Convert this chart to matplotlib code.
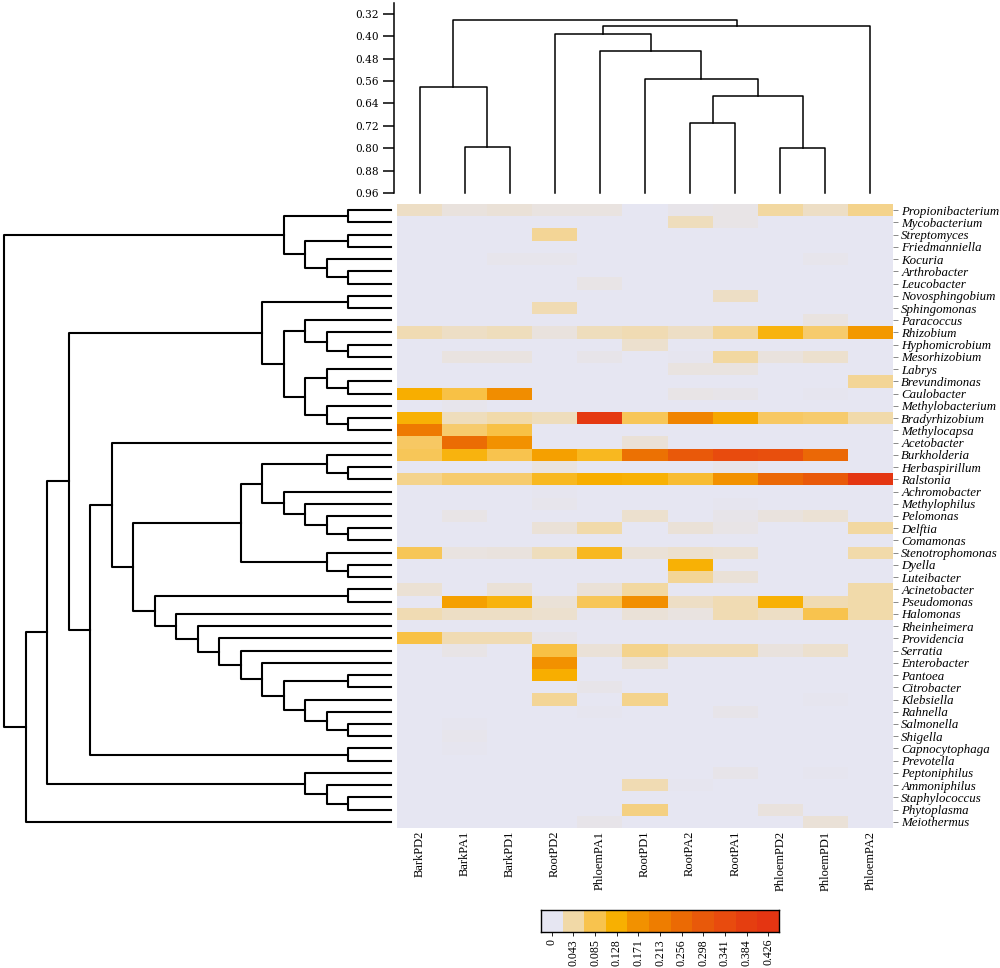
import matplotlib
matplotlib.use('Agg')
import matplotlib.pyplot as plt
from matplotlib.colors import LinearSegmentedColormap, Normalize
import numpy as np

# samples (columns), left to right
samples = ['BarkPD2', 'BarkPA1', 'BarkPD1', 'RootPD2', 'PhloemPA1', 'RootPD1',
           'RootPA2', 'RootPA1', 'PhloemPD2', 'PhloemPD1', 'PhloemPA2']

# relative abundance per genus, one value per sample (same order as samples)
actinobacteria = {
    'Propionibacterium': [0.025, 0.012, 0.015, 0.010, 0.010, 0, 0.005, 0.008, 0.045, 0.025, 0.055],
    'Mycobacterium':     [0, 0, 0, 0, 0, 0, 0.030, 0.008, 0, 0, 0],
    'Streptomyces':      [0, 0, 0, 0.050, 0, 0, 0, 0, 0, 0, 0],
    'Friedmanniella':    [0, 0, 0, 0, 0, 0, 0, 0, 0, 0, 0],
    'Kocuria':           [0, 0, 0.004, 0.004, 0, 0, 0, 0, 0, 0.004, 0],
    'Arthrobacter':      [0, 0, 0, 0, 0, 0, 0, 0, 0, 0, 0],
    'Leucobacter':       [0, 0, 0, 0, 0.008, 0, 0, 0, 0, 0, 0],
}
alphaproteobacteria = {
    'Novosphingobium':  [0, 0, 0, 0, 0, 0, 0, 0.025, 0, 0, 0],
    'Sphingomonas':     [0, 0, 0, 0.035, 0, 0, 0, 0, 0, 0, 0],
    'Paracoccus':       [0, 0, 0, 0, 0, 0, 0, 0, 0, 0.010, 0],
    'Rhizobium':        [0.035, 0.025, 0.030, 0.012, 0.030, 0.035, 0.025, 0.050, 0.120, 0.070, 0.160],
    'Hyphomicrobium':   [0, 0, 0, 0, 0, 0.020, 0, 0, 0, 0, 0],
    'Mesorhizobium':    [0, 0.010, 0.010, 0, 0.006, 0, 0.003, 0.045, 0.012, 0.020, 0],
    'Labrys':           [0, 0, 0, 0, 0, 0, 0.010, 0.010, 0, 0, 0],
    'Brevundimonas':    [0, 0, 0, 0, 0, 0, 0, 0, 0, 0, 0.050],
    'Caulobacter':      [0.130, 0.090, 0.180, 0, 0, 0, 0.008, 0.005, 0, 0.003, 0],
    'Methylobacterium': [0, 0.004, 0, 0, 0, 0, 0, 0, 0, 0, 0],
    'Bradyrhizobium':   [0.125, 0.030, 0.040, 0.030, 0.410, 0.080, 0.200, 0.140, 0.075, 0.070, 0.040],
    'Methylocapsa':     [0.220, 0.070, 0.090, 0, 0, 0, 0, 0, 0, 0, 0],
    'Acetobacter':      [0.075, 0.250, 0.170, 0, 0, 0.015, 0, 0, 0, 0, 0],
}
betaproteobacteria = {
    'Burkholderia':     [0.080, 0.120, 0.085, 0.150, 0.110, 0.240, 0.300, 0.340, 0.330, 0.260, 0],
    'Herbaspirillum':   [0, 0, 0, 0.010, 0, 0, 0, 0.005, 0, 0, 0],
    'Ralstonia':        [0.055, 0.070, 0.070, 0.110, 0.130, 0.125, 0.100, 0.170, 0.260, 0.300, 0.420],
    'Achromobacter':    [0, 0, 0, 0.003, 0, 0, 0, 0, 0, 0, 0],
    'Methylophilus':    [0, 0, 0, 0.004, 0, 0, 0, 0.003, 0, 0, 0],
    'Pelomonas':        [0, 0.008, 0, 0, 0, 0.020, 0, 0.006, 0.012, 0.018, 0],
    'Delftia':          [0, 0, 0, 0.015, 0.040, 0, 0.015, 0.008, 0, 0, 0.045],
    'Comamonas':        [0, 0, 0, 0, 0, 0, 0, 0, 0, 0, 0],
}
gammaproteobacteria = {
    'Stenotrophomonas': [0.080, 0.010, 0.012, 0.030, 0.110, 0.015, 0.020, 0.018, 0, 0, 0.040],
    'Dyella':           [0, 0, 0, 0, 0, 0, 0.125, 0, 0, 0, 0],
    'Luteibacter':      [0, 0, 0, 0, 0, 0, 0.050, 0.015, 0, 0, 0],
    'Acinetobacter':    [0.018, 0, 0.015, 0, 0.015, 0.045, 0, 0, 0, 0, 0.040],
    'Pseudomonas':      [0, 0.150, 0.120, 0.015, 0.080, 0.175, 0.025, 0.035, 0.125, 0.035, 0.040],
    'Halomonas':        [0.035, 0.025, 0.025, 0.020, 0.003, 0.015, 0.010, 0.035, 0.025, 0.085, 0.040],
    'Rheinheimera':     [0, 0, 0, 0, 0, 0, 0, 0, 0, 0, 0],
    'Providencia':      [0.090, 0.035, 0.035, 0.006, 0, 0, 0, 0, 0, 0, 0],
    'Serratia':         [0, 0.008, 0, 0.090, 0.015, 0.055, 0.035, 0.035, 0.012, 0.020, 0],
    'Enterobacter':     [0, 0, 0, 0.170, 0, 0.015, 0, 0, 0, 0, 0],
    'Pantoea':          [0, 0, 0, 0.130, 0, 0, 0, 0, 0, 0, 0],
    'Citrobacter':      [0, 0, 0, 0, 0.006, 0, 0, 0, 0, 0, 0],
    'Klebsiella':       [0, 0, 0, 0.050, 0, 0.055, 0, 0, 0, 0.003, 0],
    'Rahnella':         [0, 0, 0, 0, 0.003, 0, 0, 0.006, 0, 0, 0],
    'Salmonella':       [0, 0.003, 0, 0, 0, 0, 0, 0, 0, 0, 0],
    'Shigella':         [0, 0.004, 0, 0, 0, 0, 0, 0, 0, 0, 0],
}
others = {
    'Capnocytophaga':   [0, 0.002, 0, 0, 0, 0, 0, 0, 0, 0, 0],
    'Prevotella':       [0, 0, 0, 0, 0, 0, 0, 0, 0, 0, 0],
    'Peptoniphilus':    [0, 0, 0, 0, 0, 0, 0, 0.006, 0, 0.003, 0],
    'Ammoniphilus':     [0, 0, 0, 0, 0, 0.035, 0.003, 0, 0, 0, 0],
    'Staphylococcus':   [0, 0, 0, 0, 0, 0, 0, 0, 0, 0, 0],
    'Phytoplasma':      [0, 0, 0, 0, 0, 0.060, 0, 0, 0.012, 0, 0],
    'Meiothermus':      [0, 0, 0, 0, 0.006, 0, 0, 0, 0, 0.015, 0],
}

# colour key
key_ticks = [0, 0.043, 0.085, 0.128, 0.171, 0.213, 0.256, 0.298, 0.341, 0.384, 0.426]
key_colors = ['#E6E6F2', '#F2D9A6', '#F8C34E', '#F8B000', '#F29100', '#EF7E00',
              '#EB6A05', '#E95A0A', '#E84B0E', '#E63F10', '#E43512']

# sample clustering: (similarity, left, right)
sample_tree = (0.343,
               (0.583, 'BarkPD2', (0.795, 'BarkPA1', 'BarkPD1')),
               (0.365,
                (0.391, 'RootPD2',
                 (0.453, 'PhloemPA1',
                  (0.552, 'RootPD1',
                   (0.615, (0.709, 'RootPA2', 'RootPA1'),
                    (0.800, 'PhloemPD2', 'PhloemPD1'))))),
                'PhloemPA2'))
sample_ticks = [0.32, 0.40, 0.48, 0.56, 0.64, 0.72, 0.80, 0.88, 0.96]

# genus clustering: (level, left, right)
alpha_tree = (6, (2, 'Novosphingobium', 'Sphingomonas'),
              (5, (4, 'Paracoccus', (3, 'Rhizobium', (2, 'Hyphomicrobium', 'Mesorhizobium'))),
               (4, (3, 'Labrys', (2, 'Brevundimonas', 'Caulobacter')),
                (3, 'Methylobacterium', (2, 'Bradyrhizobium', 'Methylocapsa')))))
beta_tree = (7, (6, (3, 'Burkholderia', (2, 'Herbaspirillum', 'Ralstonia')),
                 (5, 'Achromobacter', (4, 'Methylophilus', (3, 'Pelomonas', (2, 'Delftia', 'Comamonas'))))),
             (3, 'Stenotrophomonas', (2, 'Dyella', 'Luteibacter')))
gamma_tree = (11, (2, 'Acinetobacter', 'Pseudomonas'),
              (10, 'Halomonas', (9, 'Rheinheimera', (8, 'Providencia', (7, 'Serratia',
               (6, 'Enterobacter', (5, (2, 'Pantoea', 'Citrobacter'),
                (4, 'Klebsiella', (3, 'Rahnella', (2, 'Salmonella', 'Shigella'))))))))))
genus_tree = (18,
              (5, (2, 'Propionibacterium', 'Mycobacterium'),
               (4, (2, 'Streptomyces', 'Friedmanniella'),
                (3, 'Kocuria', (2, 'Arthrobacter', 'Leucobacter')))),
              (17,
               (16,
                (15, alpha_tree,
                 (14, (13, 'Acetobacter', (12, beta_tree, gamma_tree)),
                  (2, 'Capnocytophaga', 'Prevotella'))),
                (4, 'Peptoniphilus', (3, 'Ammoniphilus', (2, 'Staphylococcus', 'Phytoplasma')))),
               'Meiothermus'))


def leaves(node):
    if isinstance(node, str):
        return [node]
    return leaves(node[1]) + leaves(node[2])


def draw_tree(ax, node, pos, base, vertical=True, **kw):
    # returns (position, height) of the node, drawing the bracket on the way up
    if isinstance(node, str):
        return pos[node], base
    h, left, right = node
    pa, ha = draw_tree(ax, left, pos, base, vertical, **kw)
    pb, hb = draw_tree(ax, right, pos, base, vertical, **kw)
    p = [pa, pa, pb, pb]
    v = [ha, h, h, hb]
    if vertical:
        ax.plot(p, v, **kw)
    else:
        ax.plot(v, p, **kw)
    return (pa + pb) / 2, h


def px_axes(fig, left, top, width, height, W=1000, H=968):
    return fig.add_axes([left / W, 1 - (top + height) / H, width / W, height / H])


def main():
    table = {}
    for group in (actinobacteria, alphaproteobacteria, betaproteobacteria, gammaproteobacteria, others):
        table.update(group)
    genera = leaves(genus_tree)
    matrix = np.array([table[g] for g in genera])
    n_rows, n_cols = matrix.shape

    cmap = LinearSegmentedColormap.from_list('key', key_colors)
    norm = Normalize(vmin=key_ticks[0], vmax=key_ticks[-1])
    serif = 'Liberation Serif'

    fig = plt.figure(figsize=(10, 9.68), dpi=100)

    # heatmap
    ax = px_axes(fig, 397, 204, 496, 624)
    ax.pcolormesh(np.arange(n_cols + 1), np.arange(n_rows + 1), matrix, cmap=cmap, norm=norm,
                  edgecolors='face', linewidth=0)
    ax.set_xlim(0, n_cols)
    ax.set_ylim(n_rows, 0)
    for s in ax.spines.values():
        s.set_visible(False)
    ax.set_xticks(np.arange(n_cols) + 0.5)
    ax.set_xticklabels(samples, rotation=90, fontsize=9, family=serif, va='top')
    ax.tick_params(axis='x', length=0, pad=2)
    ax.yaxis.tick_right()
    ax.set_yticks(np.arange(n_rows) + 0.5)
    ax.set_yticklabels(genera, fontsize=9.3, family=serif, style='italic')
    ax.tick_params(axis='y', length=3.5, width=0.6, color='#777777', pad=2.5)

    # row dendrogram
    axl = px_axes(fig, 4, 204, 387, 624)
    pos = {g: i + 0.5 for i, g in enumerate(genera)}
    draw_tree(axl, genus_tree, pos, 0, vertical=False, color='black', lw=1.5, clip_on=False)
    axl.set_xlim(genus_tree[0], 0)
    axl.set_ylim(n_rows, 0)
    axl.axis('off')

    # column dendrogram
    axt = px_axes(fig, 397, 3, 496, 190)
    pos = {s: i + 0.5 for i, s in enumerate(samples)}
    draw_tree(axt, sample_tree, pos, sample_ticks[-1], color='black', lw=1.1, clip_on=False)
    axt.set_xlim(0, n_cols)
    axt.set_ylim(sample_ticks[-1], 0.2817)
    for side in ('top', 'right', 'bottom'):
        axt.spines[side].set_visible(False)
    axt.spines['left'].set_position(('outward', 2))
    axt.spines['left'].set_linewidth(1.1)
    axt.set_xticks([])
    axt.set_yticks(sample_ticks)
    axt.set_yticklabels(['{:.2f}'.format(t) for t in sample_ticks], fontsize=7.6, family='DejaVu Serif')
    axt.tick_params(axis='y', length=8, width=1.1, pad=3)

    # colour key
    axc = px_axes(fig, 541, 910, 238, 22)
    axc.imshow(np.array([key_ticks]), cmap=cmap, norm=norm, aspect='auto',
               extent=(0, len(key_ticks), 0, 1), interpolation='nearest')
    axc.set_yticks([])
    axc.set_xticks(np.arange(len(key_ticks)) + 0.5)
    axc.set_xticklabels([('{:.3f}'.format(t) if t else '0') for t in key_ticks],
                        rotation=90, fontsize=8.6, family=serif)
    axc.tick_params(axis='x', length=3, width=0.6, pad=2)
    for s in axc.spines.values():
        s.set_linewidth(1.0)

    fig.savefig('out.png', dpi=100)


if __name__ == "__main__":
    main()
